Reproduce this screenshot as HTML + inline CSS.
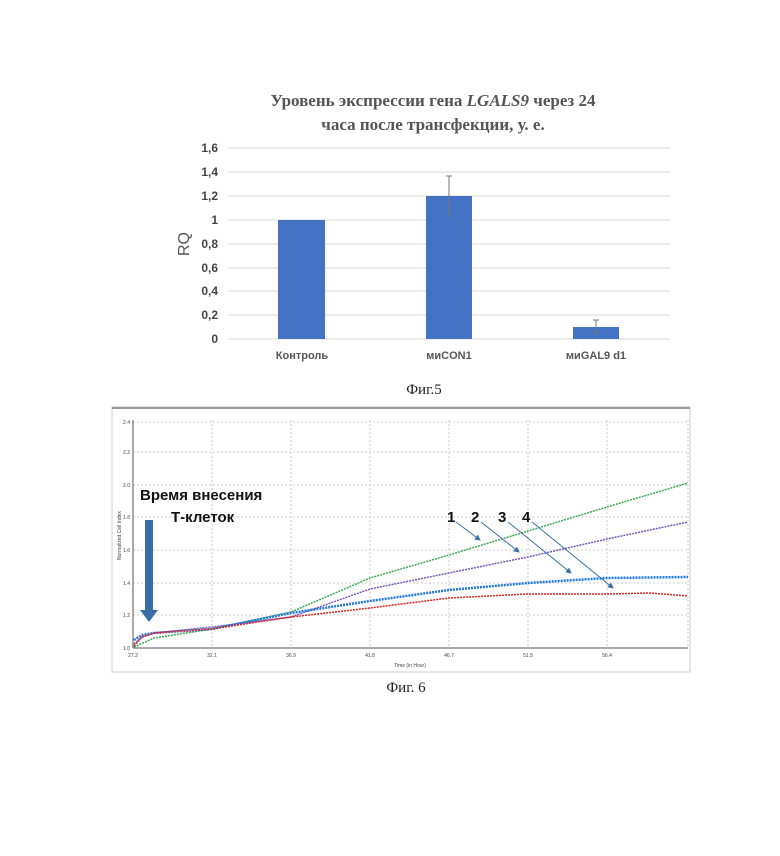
<!DOCTYPE html>
<html><head><meta charset="utf-8"><style>
body{margin:0;background:#fff;width:780px;height:856px;overflow:hidden}
svg{display:block}
</style></head><body>
<svg width="780" height="856" xmlns="http://www.w3.org/2000/svg">
<defs>
<marker id="ah" markerWidth="6" markerHeight="6" refX="5" refY="3" orient="auto"><path d="M0,0 L6,3 L0,6 z" fill="#3a6ea8"/></marker>
</defs>
<!-- Fig 5 -->
<g font-family="Liberation Serif, serif" font-weight="bold" fill="#555" font-size="17" text-anchor="middle">
<text x="433" y="106">Уровень экспрессии гена <tspan font-style="italic">LGALS9</tspan> через 24</text>
<text x="433" y="130">часа после трансфекции, у. е.</text>
</g>
<g stroke="#d9d9d9" stroke-width="1">
<line x1="228" x2="670" y1="148" y2="148"/><line x1="228" x2="670" y1="172" y2="172"/>
<line x1="228" x2="670" y1="196" y2="196"/><line x1="228" x2="670" y1="220" y2="220"/>
<line x1="228" x2="670" y1="244" y2="244"/><line x1="228" x2="670" y1="268" y2="268"/>
<line x1="228" x2="670" y1="291" y2="291"/><line x1="228" x2="670" y1="315" y2="315"/>
<line x1="228" x2="670" y1="339" y2="339"/>
</g>
<g font-family="Liberation Sans, sans-serif" font-weight="bold" font-size="12" fill="#444" text-anchor="end">
<text x="218" y="152">1,6</text><text x="218" y="176">1,4</text><text x="218" y="200">1,2</text>
<text x="218" y="224">1</text><text x="218" y="248">0,8</text><text x="218" y="272">0,6</text>
<text x="218" y="295">0,4</text><text x="218" y="319">0,2</text><text x="218" y="343">0</text>
</g>
<text x="0" y="0" transform="translate(189,244) rotate(-90)" font-family="Liberation Sans, sans-serif" font-size="16" fill="#555" text-anchor="middle">RQ</text>
<g fill="#4472c4">
<rect x="278" y="220" width="47" height="119"/>
<rect x="426" y="196" width="46" height="143"/>
<rect x="573" y="327" width="46" height="12"/>
</g>
<g stroke="#777" stroke-width="1">
<line x1="449" x2="449" y1="176" y2="216"/><line x1="446" x2="452" y1="176" y2="176"/><line x1="446" x2="452" y1="216" y2="216"/>
<line x1="596" x2="596" y1="320" y2="333"/><line x1="593" x2="599" y1="320" y2="320"/><line x1="593" x2="599" y1="333" y2="333"/>
</g>
<g font-family="Liberation Sans, sans-serif" font-weight="bold" font-size="11" fill="#555" text-anchor="middle">
<text x="302" y="359">Контроль</text><text x="449" y="359">миCON1</text><text x="596" y="359">миGAL9 d1</text>
</g>
<text x="424" y="394" font-family="Liberation Serif, serif" font-size="15" fill="#222" text-anchor="middle">Фиг.5</text>

<!-- Fig 6 -->
<rect x="112" y="407" width="578" height="265" fill="#fff" stroke="#ccc"/>
<line x1="112" x2="690" y1="408" y2="408" stroke="#999" stroke-width="2"/>
<g stroke="#ccc" stroke-dasharray="2,2" stroke-width="1">
<line x1="133" x2="688" y1="422" y2="422"/><line x1="133" x2="688" y1="452" y2="452"/>
<line x1="133" x2="688" y1="485" y2="485"/><line x1="133" x2="688" y1="517" y2="517"/>
<line x1="133" x2="688" y1="550" y2="550"/><line x1="133" x2="688" y1="583" y2="583"/>
<line x1="133" x2="688" y1="615" y2="615"/>
<line x1="212" x2="212" y1="420" y2="648"/><line x1="291" x2="291" y1="420" y2="648"/>
<line x1="370" x2="370" y1="420" y2="648"/><line x1="449" x2="449" y1="420" y2="648"/>
<line x1="528" x2="528" y1="420" y2="648"/><line x1="607" x2="607" y1="420" y2="648"/>
<line x1="688" x2="688" y1="420" y2="648"/>
</g>
<line x1="133" x2="133" y1="420" y2="648" stroke="#555"/>
<line x1="133" x2="688" y1="648" y2="648" stroke="#555"/>
<g font-family="Liberation Sans, sans-serif" font-size="5" fill="#444" text-anchor="end">
<text x="130" y="424">2.4</text><text x="130" y="454">2.2</text><text x="130" y="487">2.0</text>
<text x="130" y="519">1.8</text><text x="130" y="552">1.6</text><text x="130" y="585">1.4</text>
<text x="130" y="617">1.2</text><text x="130" y="650">1.0</text>
</g>
<g font-family="Liberation Sans, sans-serif" font-size="5" fill="#444" text-anchor="middle">
<text x="133" y="657">27.2</text><text x="212" y="657">32.1</text><text x="291" y="657">36.9</text>
<text x="370" y="657">41.8</text><text x="449" y="657">46.7</text><text x="528" y="657">51.5</text>
<text x="607" y="657">56.4</text><text x="410" y="667">Time (in Hour)</text>
</g>
<text transform="translate(121,560) rotate(-90)" font-family="Liberation Sans, sans-serif" font-size="5" fill="#444">Normalized Cell Index</text>
<g fill="none" stroke-width="1.5" stroke-dasharray="2,1">
<polyline stroke="#3aa655" points="134,647 154,638 212,629 291,612 370,578 449,555 528,531 607,507 688,483"/>
<polyline stroke="#7755bb" points="134,644 142,637 154,633 212,627 291,617 370,589 449,573 528,557 607,539 688,522"/>
<polyline stroke="#2277dd" stroke-width="2.5" points="134,640 142,635 154,633 212,629 291,613 370,601 449,590 528,583 607,578 688,577"/>
<polyline stroke="#dd2222" points="134,646 142,637 154,633 212,629 291,617 370,608 449,598 528,594 607,594 650,593 688,596"/>
</g>
<g font-family="Liberation Sans, sans-serif" font-weight="bold" font-size="15" fill="#111">
<text x="140" y="500">Время внесения</text><text x="171" y="522">Т-клеток</text>
<text x="447" y="522">1</text><text x="471" y="522">2</text><text x="498" y="522">3</text><text x="522" y="522">4</text>
</g>
<rect x="145" y="520" width="8" height="90" fill="#3a6ea8"/>
<polygon points="140,610 158,610 149,622" fill="#3a6ea8"/>
<g stroke="#3a6ea8" stroke-width="1" marker-end="url(#ah)">
<line x1="456" y1="522" x2="480" y2="540"/><line x1="481" y1="522" x2="519" y2="552"/>
<line x1="508" y1="522" x2="571" y2="573"/><line x1="532" y1="522" x2="613" y2="588"/>
</g>
<text x="406" y="692" font-family="Liberation Serif, serif" font-size="15" fill="#222" text-anchor="middle">Фиг. 6</text>
</svg>
</body></html>
